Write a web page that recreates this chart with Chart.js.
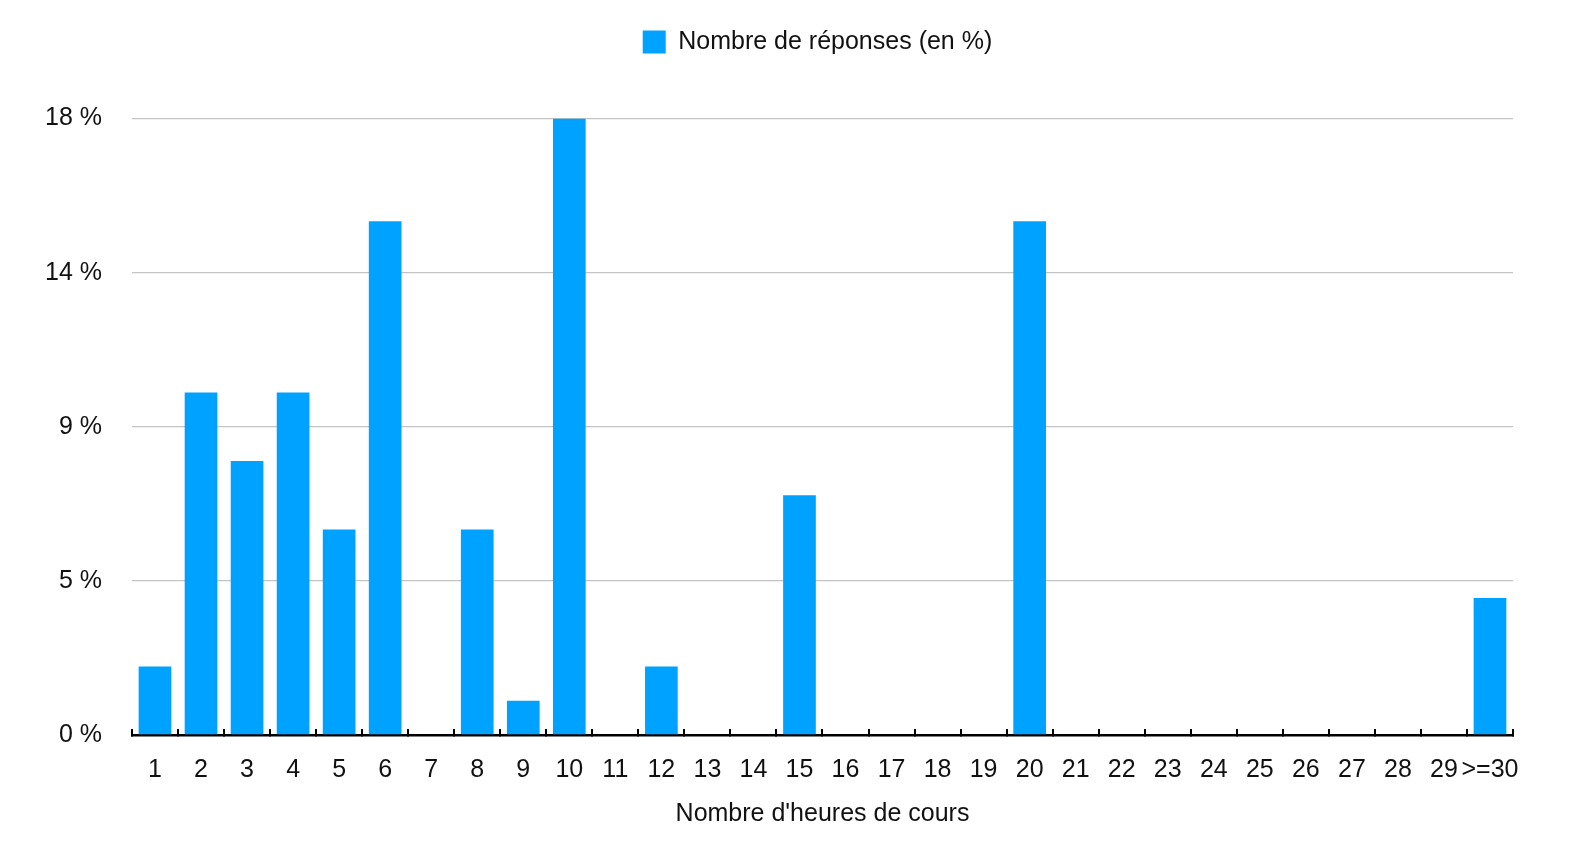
<!DOCTYPE html>
<html lang="fr">
<head>
<meta charset="utf-8">
<title>Nombre d'heures de cours</title>
<script src="https://cdn.jsdelivr.net/npm/chart.js@4/dist/chart.umd.min.js"></script>
<style>
	html, body { margin: 0; padding: 0; background: #ffffff; }
	#wrap { position: relative; width: 1584px; height: 868px; }
</style>
</head>
<body>
<div id="wrap"><canvas id="hoursChart"></canvas></div>
<script>
'use strict';

const hourLabels = ['1', '2', '3', '4', '5', '6', '7', '8', '9', '10', '11', '12', '13', '14', '15',
	'16', '17', '18', '19', '20', '21', '22', '23', '24', '25', '26', '27', '28', '29', '>=30'];
const responsePercent = [2, 10, 8, 10, 6, 15, 0, 6, 1, 18, 0, 2, 0, 0, 7,
	0, 0, 0, 0, 15, 0, 0, 0, 0, 0, 0, 0, 0, 0, 4];
const yTickValues = [0, 4.5, 9, 13.5, 18];
const yTickLabels = ['0 %', '5 %', '9 %', '14 %', '18 %'];

const FONT = '"Liberation Sans", Arial, Helvetica, sans-serif';

// push the legend down and center it over the plot area
const legendPlacement = {
	id: 'legendPlacement',
	beforeInit(chart) {
		if (!chart.legend) return;
		const fit = chart.legend.fit;
		chart.legend.fit = function () {
			fit.bind(chart.legend)();
			this.height += 54;
		};
	},
	afterLayout(chart) {
		const legend = chart.legend;
		const area = chart.chartArea;
		const pad = legend.options.labels.padding;
		const shift = (area.left + area.right) / 2 - (legend.left + legend.right + pad) / 2;
		legend.left += shift;
		legend.right += shift;
	},
};

const createHoursChart = function () {
	const ctx = document.getElementById('hoursChart');

	const data = {
		labels: hourLabels,
		datasets: [
			{
				label: 'Nombre de réponses (en %)',
				data: responsePercent,
				backgroundColor: '#00a2ff',
				borderWidth: 0,
				barPercentage: 0.71,
				categoryPercentage: 1,
			},
		],
	};

	const options = {
		responsive: true,
		maintainAspectRatio: false,
		animation: false,
		layout: {
			padding: { top: 19.5, left: 15, right: 71, bottom: 35 },
		},
		scales: {
			x: {
				grid: {
					drawOnChartArea: false,
					color: '#000000',
					lineWidth: 2,
					tickLength: -6,
				},
				border: {
					color: '#000000',
					width: 2.5,
				},
				ticks: {
					color: '#111111',
					padding: 26,
					maxRotation: 0,
					autoSkip: false,
					font: { family: FONT, size: 25 },
				},
				title: {
					display: true,
					text: "Nombre d'heures de cours",
					color: '#111111',
					padding: { top: -12, bottom: 4 },
					font: { family: FONT, size: 25 },
				},
			},
			y: {
				min: 0,
				max: 18,
				afterBuildTicks(scale) {
					scale.ticks = yTickValues.map((v) => ({ value: v }));
				},
				grid: {
					color: '#c4c4c4',
					lineWidth: 1.3,
					drawTicks: false,
				},
				border: {
					display: false,
				},
				ticks: {
					color: '#111111',
					padding: 30,
					font: { family: FONT, size: 25 },
					callback: (value) => yTickLabels[yTickValues.indexOf(value)],
				},
			},
		},
		plugins: {
			legend: {
				position: 'top',
				labels: {
					boxWidth: 23,
					boxHeight: 23,
					color: '#111111',
					font: { family: FONT, size: 25 },
				},
			},
			tooltip: {
				enabled: false,
			},
		},
	};

	new Chart(ctx, {
		type: 'bar',
		data: data,
		options: options,
		plugins: [legendPlacement],
	});
};

document.addEventListener('DOMContentLoaded', createHoursChart);
</script>
</body>
</html>
